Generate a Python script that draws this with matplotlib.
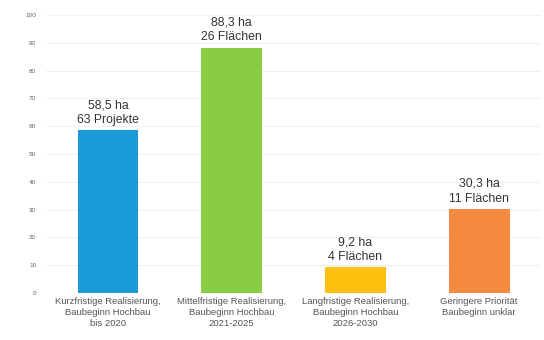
import matplotlib
matplotlib.use("Agg")
import matplotlib.pyplot as plt

plt.rcParams["font.family"] = ["Liberation Sans", "DejaVu Sans"]

categories = ["Kurzfristige Realisierung,\nBaubeginn Hochbau\nbis 2020",
              "Mittelfristige Realisierung,\nBaubeginn Hochbau\n2021-2025",
              "Langfristige Realisierung,\nBaubeginn Hochbau\n2026-2030",
              "Geringere Priorität\nBaubeginn unklar"]
values = [58.5, 88.3, 9.2, 30.3]
bar_labels = ["58,5 ha\n63 Projekte", "88,3 ha\n26 Flächen", "9,2 ha\n4 Flächen", "30,3 ha\n11 Flächen"]
colors = ["#1b9ad8", "#8acd45", "#fdc00f", "#f58b41"]
yticks = list(range(0, 101, 10))

fig = plt.figure(figsize=(5.44, 3.40), dpi=100)
ax = fig.add_axes([0.0846, 0.138, 0.91, 0.818])
x = range(len(categories))
ax.bar(x, values, width=0.49, color=colors, zorder=2)
ax.set_ylim(0, 100)
ax.set_xlim(-0.5, 3.5)
ax.set_yticks(yticks)
ax.set_yticklabels([str(t) for t in yticks], fontsize=4.6, color="#666666")
ax.tick_params(axis="y", length=0, pad=7)
ax.set_xticks(list(x))
ax.set_xticklabels(categories, fontsize=6.8, color="#555555", linespacing=1.25)
ax.tick_params(axis="x", length=0, pad=3)
ax.grid(axis="y", color="#f0f0f0", linewidth=0.8, zorder=0)
for s in ax.spines.values():
    s.set_visible(False)
for xi, v, lab in zip(x, values, bar_labels):
    ax.annotate(lab, (xi, v), xytext=(0, 3), textcoords="offset points",
                ha="center", va="bottom", fontsize=8.8, color="#333333", linespacing=1.3)
fig.savefig("out.png", dpi=100)
